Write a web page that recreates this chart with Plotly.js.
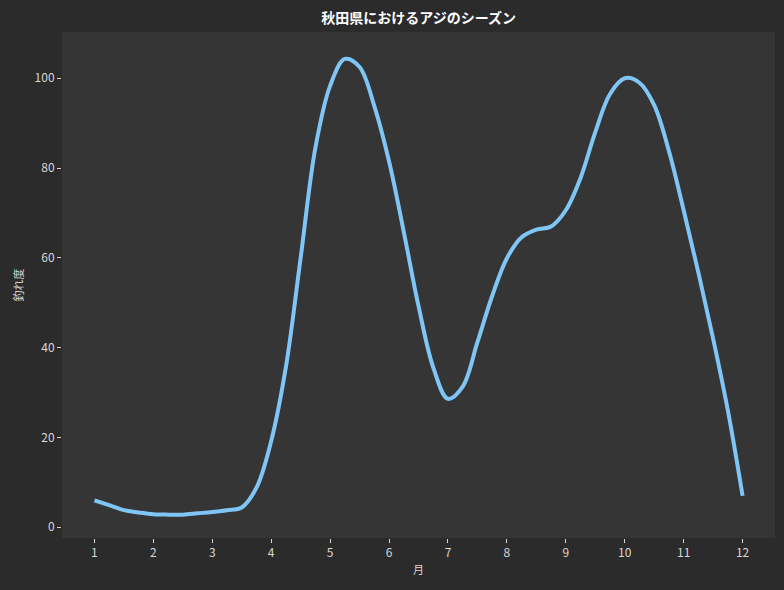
<!DOCTYPE html>
<html>
<head>
<meta charset="utf-8">
<script src="https://cdn.plot.ly/plotly-3.0.1.min.js"></script>
<style>
  html, body { margin: 0; padding: 0; background: #2b2b2b; }
  #chart { width: 784px; height: 590px; }
</style>
</head>
<body>
<div id="chart"></div>
<script>
// month positions (quarter steps) and catch score
const months = [1, 1.25, 1.5, 1.75, 2, 2.25, 2.5, 2.75, 3, 3.25, 3.5, 3.75,
  4, 4.25, 4.5, 4.75, 5, 5.25, 5.5, 5.75, 6, 6.25, 6.5, 6.75,
  7, 7.25, 7.5, 7.75, 8, 8.25, 8.5, 8.75, 9, 9.25, 9.5, 9.75,
  10, 10.25, 10.5, 10.75, 11, 11.25, 11.5, 11.75, 12];
const score = [6.0, 4.9, 3.8, 3.3, 2.9, 2.8, 2.8, 3.1, 3.4, 3.8, 4.4, 8.8,
  19.2, 35.7, 60.0, 84.5, 98.3, 104.3, 102.5, 93.8, 81.5, 65.8, 49.3, 35.6,
  28.6, 31.3, 41.2, 51.5, 59.9, 64.6, 66.3, 67.0, 70.6, 77.8, 88.0, 96.5,
  100.0, 99.0, 94.0, 83.8, 70.6, 56.7, 42.0, 26.0, 7.0];
const tickVals = [1, 2, 3, 4, 5, 6, 7, 8, 9, 10, 11, 12];

const font = '"Noto Sans CJK JP", "Noto Sans", sans-serif';

const trace = {
  x: months,
  y: score,
  mode: "lines",
  line: { color: "#7fc5f6", width: 4, shape: "spline", smoothing: 1.0 },
  hoverinfo: "skip"
};

const layout = {
  width: 784,
  height: 590,
  paper_bgcolor: "#2b2b2b",
  plot_bgcolor: "#353535",
  margin: { l: 62, r: 9, t: 32, b: 52 },
  showlegend: false,
  font: { family: font, color: "#d8d8d8", size: 12 },
  title: {
    text: "<b>秋田県におけるアジのシーズン</b>",
    x: 0.534, xanchor: "center",
    y: 0.97, yanchor: "middle",
    font: { family: font, size: 14, color: "#ffffff" }
  },
  xaxis: {
    range: [0.45, 12.55],
    tickvals: tickVals,
    ticktext: tickVals.map(String),
    ticks: "outside", ticklen: 4, tickwidth: 1, tickcolor: "#d8d8d8",
    showgrid: false, zeroline: false, showline: false,
    tickfont: { size: 12, color: "#d8d8d8" },
    title: { text: "月", font: { size: 11, color: "#d8d8d8" }, standoff: 6 }
  },
  yaxis: {
    range: [-2.4, 110.3],
    tickvals: [0, 20, 40, 60, 80, 100],
    ticks: "outside", ticklen: 4, tickwidth: 1, tickcolor: "#d8d8d8",
    showgrid: false, zeroline: false, showline: false,
    tickfont: { size: 12, color: "#d8d8d8" },
    title: { text: "釣れ度", font: { size: 11, color: "#d8d8d8" }, standoff: 8 }
  }
};

Plotly.newPlot("chart", [trace], layout, { displayModeBar: false, staticPlot: true });
</script>
</body>
</html>
